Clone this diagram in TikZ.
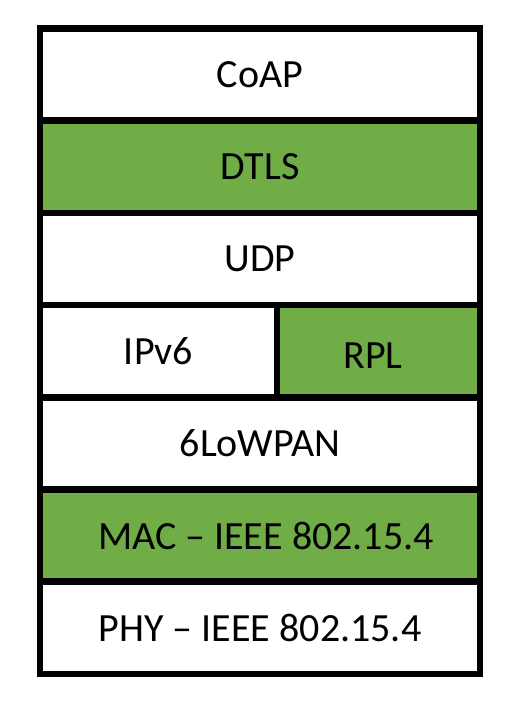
\documentclass[tikz,border=0pt]{standalone}
\usepackage{fontspec}
\setmainfont{Carlito}
\definecolor{layergreen}{HTML}{70AD47}
\tikzset{
  layer/.style={draw=black, line width=6.5pt, minimum height=92.2pt,
    inner sep=0pt, outer sep=0pt, font=\fontsize{40}{48}\selectfont},
  wide/.style={layer, minimum width=440pt},
  lbl/.style={inner sep=0pt, font=\fontsize{40}{48}\selectfont}
}
\begin{document}
\begin{tikzpicture}[x=1pt,y=-1pt]
  \useasboundingbox (0,0) rectangle (518,704);
  % protocol stack, top to bottom
  \node[wide, fill=white]       (coap) at (260,74.6)  {CoAP};
  \node[wide, fill=layergreen]  (dtls) at (260,166.8) {DTLS};
  \node[wide, fill=white]       (udp)  at (260,259.0) {UDP};
  \node[layer, fill=white, minimum width=237pt]      (ipv6) at (158.5,351.2) {IPv6};
  \node[layer, fill=layergreen, minimum width=203pt] (rpl)  at (378.5,351.2) {};
  \node[lbl] (rpltext) at ([xshift=-5.5pt,yshift=-4pt]rpl.center) {RPL};
  \node[wide, fill=layergreen]  (mac)  at (260,535.6) {};
  \node[lbl] (mactext) at ([xshift=6pt]mac.center) {MAC -- IEEE 802.15.4};
  \node[wide, fill=white]       (lowpan) at (260,443.4) {6LoWPAN};
  \node[wide, fill=white]       (phy)  at (260,627.8) {PHY -- IEEE 802.15.4};
\end{tikzpicture}
\end{document}
